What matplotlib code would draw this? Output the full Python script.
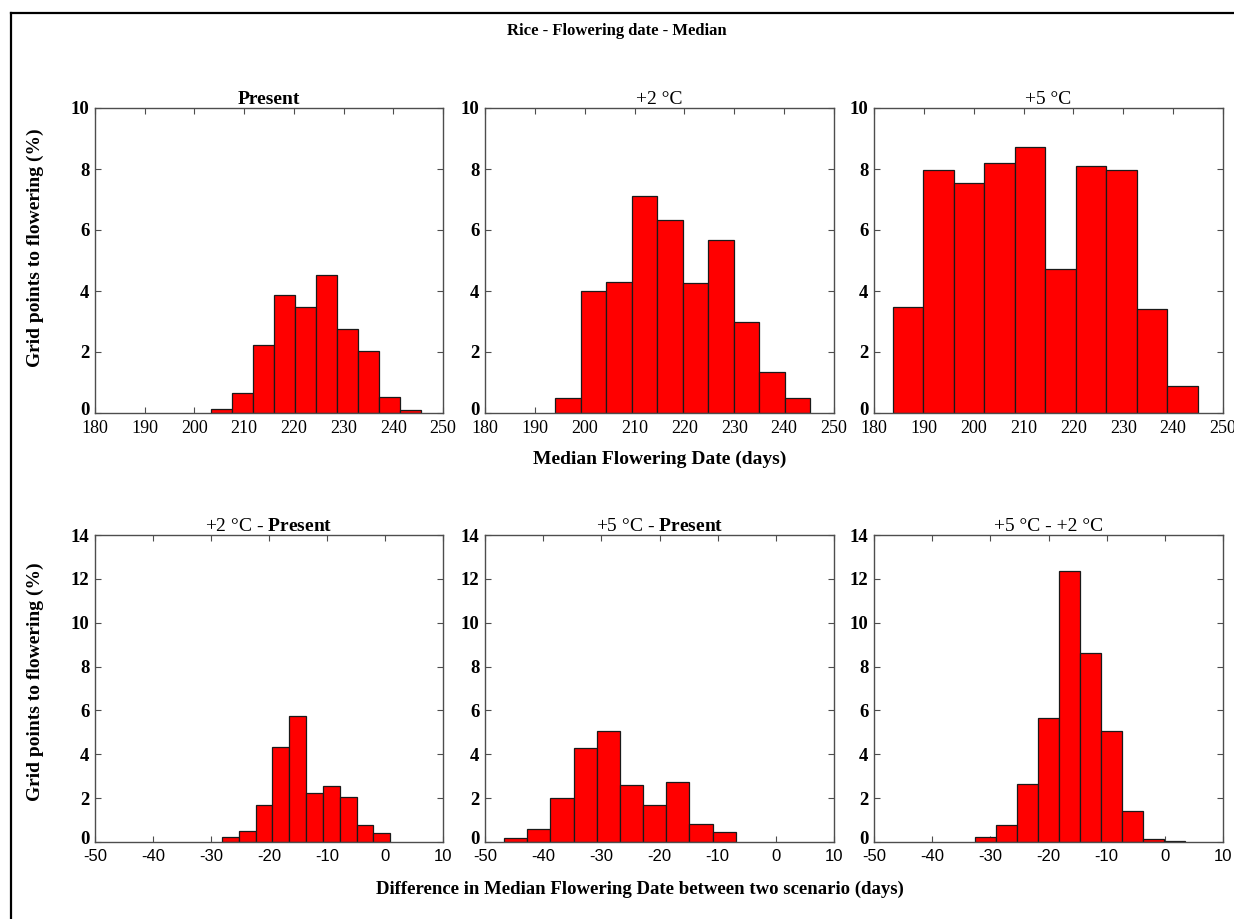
import numpy as np
import matplotlib
matplotlib.use("Agg")
import matplotlib.pyplot as plt
from matplotlib.lines import Line2D
from matplotlib.transforms import ScaledTranslation

plt.rcParams["mathtext.fontset"] = "custom"
plt.rcParams["mathtext.rm"] = "Liberation Serif"
plt.rcParams["mathtext.bf"] = "Liberation Serif:bold"
plt.rcParams["axes.unicode_minus"] = False

SERIF = "Liberation Serif"
SANS = "Liberation Sans"

# ---- histogram data: first bin edge, bin width, % of grid points per bin ----
present_start, present_width = 203.4, 4.22
present_pct = [0.14, 0.66, 2.24, 3.87, 3.46, 4.54, 2.75, 2.03, 0.52, 0.11]

plus2_start, plus2_width = 194.1, 5.11
plus2_pct = [0.49, 4.01, 4.30, 7.13, 6.34, 4.26, 5.68, 2.98, 1.34, 0.49]

plus5_start, plus5_width = 183.8, 6.11
plus5_pct = [3.46, 7.98, 7.53, 8.19, 8.73, 4.73, 8.09, 7.96, 3.42, 0.87]

d2p_start, d2p_width = -28.1, 2.90
d2p_pct = [0.23, 0.50, 1.70, 4.34, 5.75, 2.24, 2.56, 2.05, 0.76, 0.43]

d5p_start, d5p_width = -46.7, 3.98
d5p_pct = [0.20, 0.61, 1.99, 4.28, 5.08, 2.60, 1.70, 2.74, 0.81, 0.46]

d52_start, d52_width = -32.6, 3.60
d52_pct = [0.21, 0.76, 2.66, 5.66, 12.37, 8.63, 5.08, 1.42, 0.12, 0.03]

top_titles = ["Present", "+2 °C", "+5 °C"]
bottom_titles = ["+2 °C - $\\mathbf{Present}$", "+5 °C - $\\mathbf{Present}$", "+5 °C - +2 °C"]
top_title_weights = ["bold", "normal", "normal"]

top_xticks = [180, 190, 200, 210, 220, 230, 240, 250]
top_yticks = [0, 2, 4, 6, 8, 10]
bottom_xticks = [-50, -40, -30, -20, -10, 0, 10]
bottom_yticks = [0, 2, 4, 6, 8, 10, 12, 14]

top_data = [(present_start, present_width, present_pct),
            (plus2_start, plus2_width, plus2_pct),
            (plus5_start, plus5_width, plus5_pct)]
bottom_data = [(d2p_start, d2p_width, d2p_pct),
               (d5p_start, d5p_width, d5p_pct),
               (d52_start, d52_width, d52_pct)]

W, H = 1234, 919
fig = plt.figure(figsize=(W / 100, H / 100), dpi=100)

lefts = [95, 485, 874]
widths = [348, 349, 349]
SPINE = "#4d4d4d"


def style_axes(ax, xticks, yticks, xlim, ylim, xfont, xsize):
    ax.set_xlim(*xlim)
    ax.set_ylim(*ylim)
    ax.set_xticks(xticks)
    ax.set_yticks(yticks)
    ax.tick_params(direction="in", top=True, right=True, length=4, width=0.8,
                   colors=SPINE, labelcolor="black")
    ax.tick_params(axis="x", pad=5)
    ax.tick_params(axis="y", pad=4)
    ax.set_yticklabels([str(v) for v in yticks], fontfamily=SERIF,
                       fontweight="bold", fontsize=13.5)
    ax.set_xticklabels([str(v) for v in xticks], fontfamily=xfont, fontsize=xsize)
    # lift the zero label a little so it clears the x tick labels
    zero = ax.yaxis.get_major_ticks()[0].label1
    zero.set_transform(zero.get_transform() +
                       ScaledTranslation(0, 5 / 100, fig.dpi_scale_trans))
    for sp in ax.spines.values():
        sp.set_color(SPINE)
        sp.set_linewidth(1.0)


def draw_hist(ax, start, width, pct):
    n = len(pct)
    edges = start + width * np.arange(n)
    ax.bar(edges, pct, width=width, align="edge", color="#ff0000",
           edgecolor="#1a1a1a", linewidth=0.9, zorder=2)


for i in range(3):
    ax = fig.add_axes([lefts[i] / W, 1 - 413 / H, widths[i] / W, 305 / H])
    draw_hist(ax, *top_data[i])
    style_axes(ax, top_xticks, top_yticks, (180, 250), (0, 10), SERIF, 13)
    ax.set_title(top_titles[i], fontfamily=SERIF, fontweight=top_title_weights[i],
                 fontsize=14, pad=3)

for i in range(3):
    ax = fig.add_axes([lefts[i] / W, 1 - 842 / H, widths[i] / W, 307 / H])
    draw_hist(ax, *bottom_data[i])
    style_axes(ax, bottom_xticks, bottom_yticks, (-50, 10), (0, 14), SANS, 12)
    ax.set_title(bottom_titles[i], fontfamily=SERIF, fontsize=14, pad=3)

fig.text(617 / W, 1 - 31 / H, "Rice - Flowering date - Median", ha="center", va="center",
         fontfamily=SERIF, fontweight="bold", fontsize=12)
fig.text(660 / W, 1 - 459 / H, "Median Flowering Date (days)", ha="center", va="center",
         fontfamily=SERIF, fontweight="bold", fontsize=14)
fig.text(640 / W, 1 - 889 / H, "Difference in Median Flowering Date between two scenario (days)",
         ha="center", va="center", fontfamily=SERIF, fontweight="bold", fontsize=13.5)
fig.text(35 / W, 1 - 248 / H, "Grid points to flowering (%)", rotation=90, ha="center",
         va="center", fontfamily=SERIF, fontweight="bold", fontsize=14)
fig.text(35 / W, 1 - 682 / H, "Grid points to flowering (%)", rotation=90, ha="center",
         va="center", fontfamily=SERIF, fontweight="bold", fontsize=14)

# page frame along the top and left edges
fig.add_artist(Line2D([11 / W, 1.0], [1 - 12.5 / H, 1 - 12.5 / H], color="black",
                      linewidth=1.6, transform=fig.transFigure))
fig.add_artist(Line2D([11 / W, 11 / W], [0.0, 1 - 12.5 / H], color="black",
                      linewidth=1.6, transform=fig.transFigure))

fig.savefig("out.png", dpi=100, facecolor="white")
